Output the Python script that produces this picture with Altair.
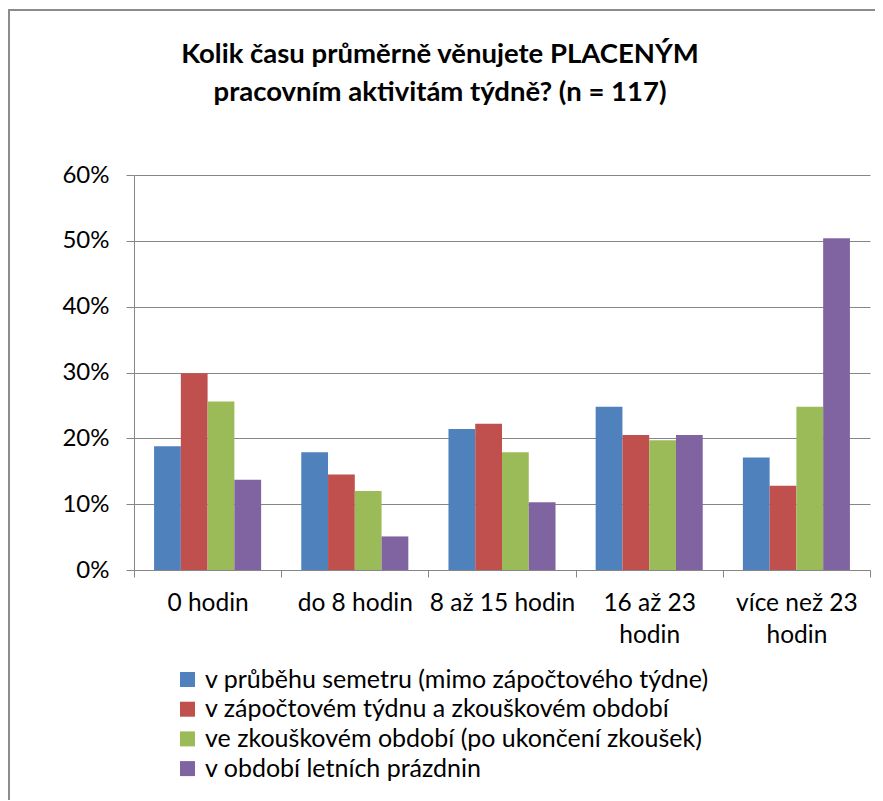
import altair as alt
import pandas as pd

title_lines = ["Kolik času průměrně věnujete PLACENÝM", "pracovním aktivitám týdně? (n = 117)"]
categories = ["0 hodin", "do 8 hodin", "8 až 15 hodin", "16 až 23 hodin", "více než 23 hodin"]
series = [
    "v průběhu semetru (mimo zápočtového týdne)",
    "v zápočtovém týdnu a zkouškovém období",
    "ve zkouškovém období (po ukončení zkoušek)",
    "v období letních prázdnin",
]
colors = ["#4F81BD", "#C0504D", "#9BBB59", "#8064A2"]
v_semestr = [0.188, 0.179, 0.214, 0.248, 0.171]
v_zapoctovy = [0.299, 0.145, 0.222, 0.205, 0.128]
v_zkouskove = [0.256, 0.120, 0.179, 0.197, 0.248]
v_prazdniny = [0.137, 0.051, 0.103, 0.205, 0.504]

rows = []
for s, vals in zip(series, [v_semestr, v_zapoctovy, v_zkouskove, v_prazdniny]):
    for c, v in zip(categories, vals):
        rows.append({"kat": c, "serie": s, "hodnota": v})
df = pd.DataFrame(rows)

FONT = "Lato"

bars = alt.Chart(df).mark_bar().encode(
    x=alt.X("kat:N", sort=categories, title=None,
            scale=alt.Scale(paddingInner=0, paddingOuter=0),
            axis=alt.Axis(labelAngle=0, tickBand="extent", tickSize=7, labelPadding=14,
                          labelFontSize=24.5, labelFont=FONT, labelColor="#000000",
                          labelLineHeight=32, domainColor="#868686", tickColor="#868686",
                          labelExpr="length(datum.label) > 13 ? [substring(datum.label, 0, lastindexof(datum.label, ' ')), 'hodin'] : datum.label")),
    xOffset=alt.XOffset("serie:N", sort=series,
                        scale=alt.Scale(paddingInner=0, paddingOuter=0.75)),
    y=alt.Y("hodnota:Q", title=None,
            scale=alt.Scale(domain=[0, 0.6], nice=False),
            axis=alt.Axis(format="%", values=[0, 0.1, 0.2, 0.3, 0.4, 0.5, 0.6], tickSize=8,
                          labelPadding=17, labelFontSize=24, labelFont=FONT, labelColor="#000000",
                          domainColor="#868686", tickColor="#868686", gridColor="#868686",
                          gridWidth=1)),
    color=alt.Color("serie:N", sort=series, scale=alt.Scale(domain=series, range=colors),
                    legend=alt.Legend(title=None, orient="none", legendX=41, legendY=492,
                                      symbolType="square", symbolSize=225, symbolStrokeWidth=0,
                                      labelOffset=5,
                                      labelFontSize=25, labelFont=FONT, labelColor="#000000",
                                      rowPadding=3.7, labelLimit=700)),
)

frame = alt.Chart(pd.DataFrame({"a": [0]})).mark_rect(
    fill=None, stroke="#8c8c8c", strokeWidth=2, clip=False
).encode(
    x=alt.value(-125), x2=alt.value(770), y=alt.value(-165), y2=alt.value(660)
)

title = alt.Chart(pd.DataFrame({"a": [0]})).mark_text(
    text=title_lines, font=FONT, fontSize=27.5, fontWeight="bold", color="#000000",
    align="center", baseline="middle", lineHeight=38
).encode(x=alt.value(306), y=alt.value(-120))

chart = alt.layer(frame, title, bars).properties(
    width=736, height=395,
    padding={"left": 126, "top": 167, "right": 5, "bottom": 230},
    autosize=alt.AutoSizeParams(type="none"),
).configure_view(stroke=None)

chart.save("out.html", embed_options={"renderer": "svg", "actions": False})
